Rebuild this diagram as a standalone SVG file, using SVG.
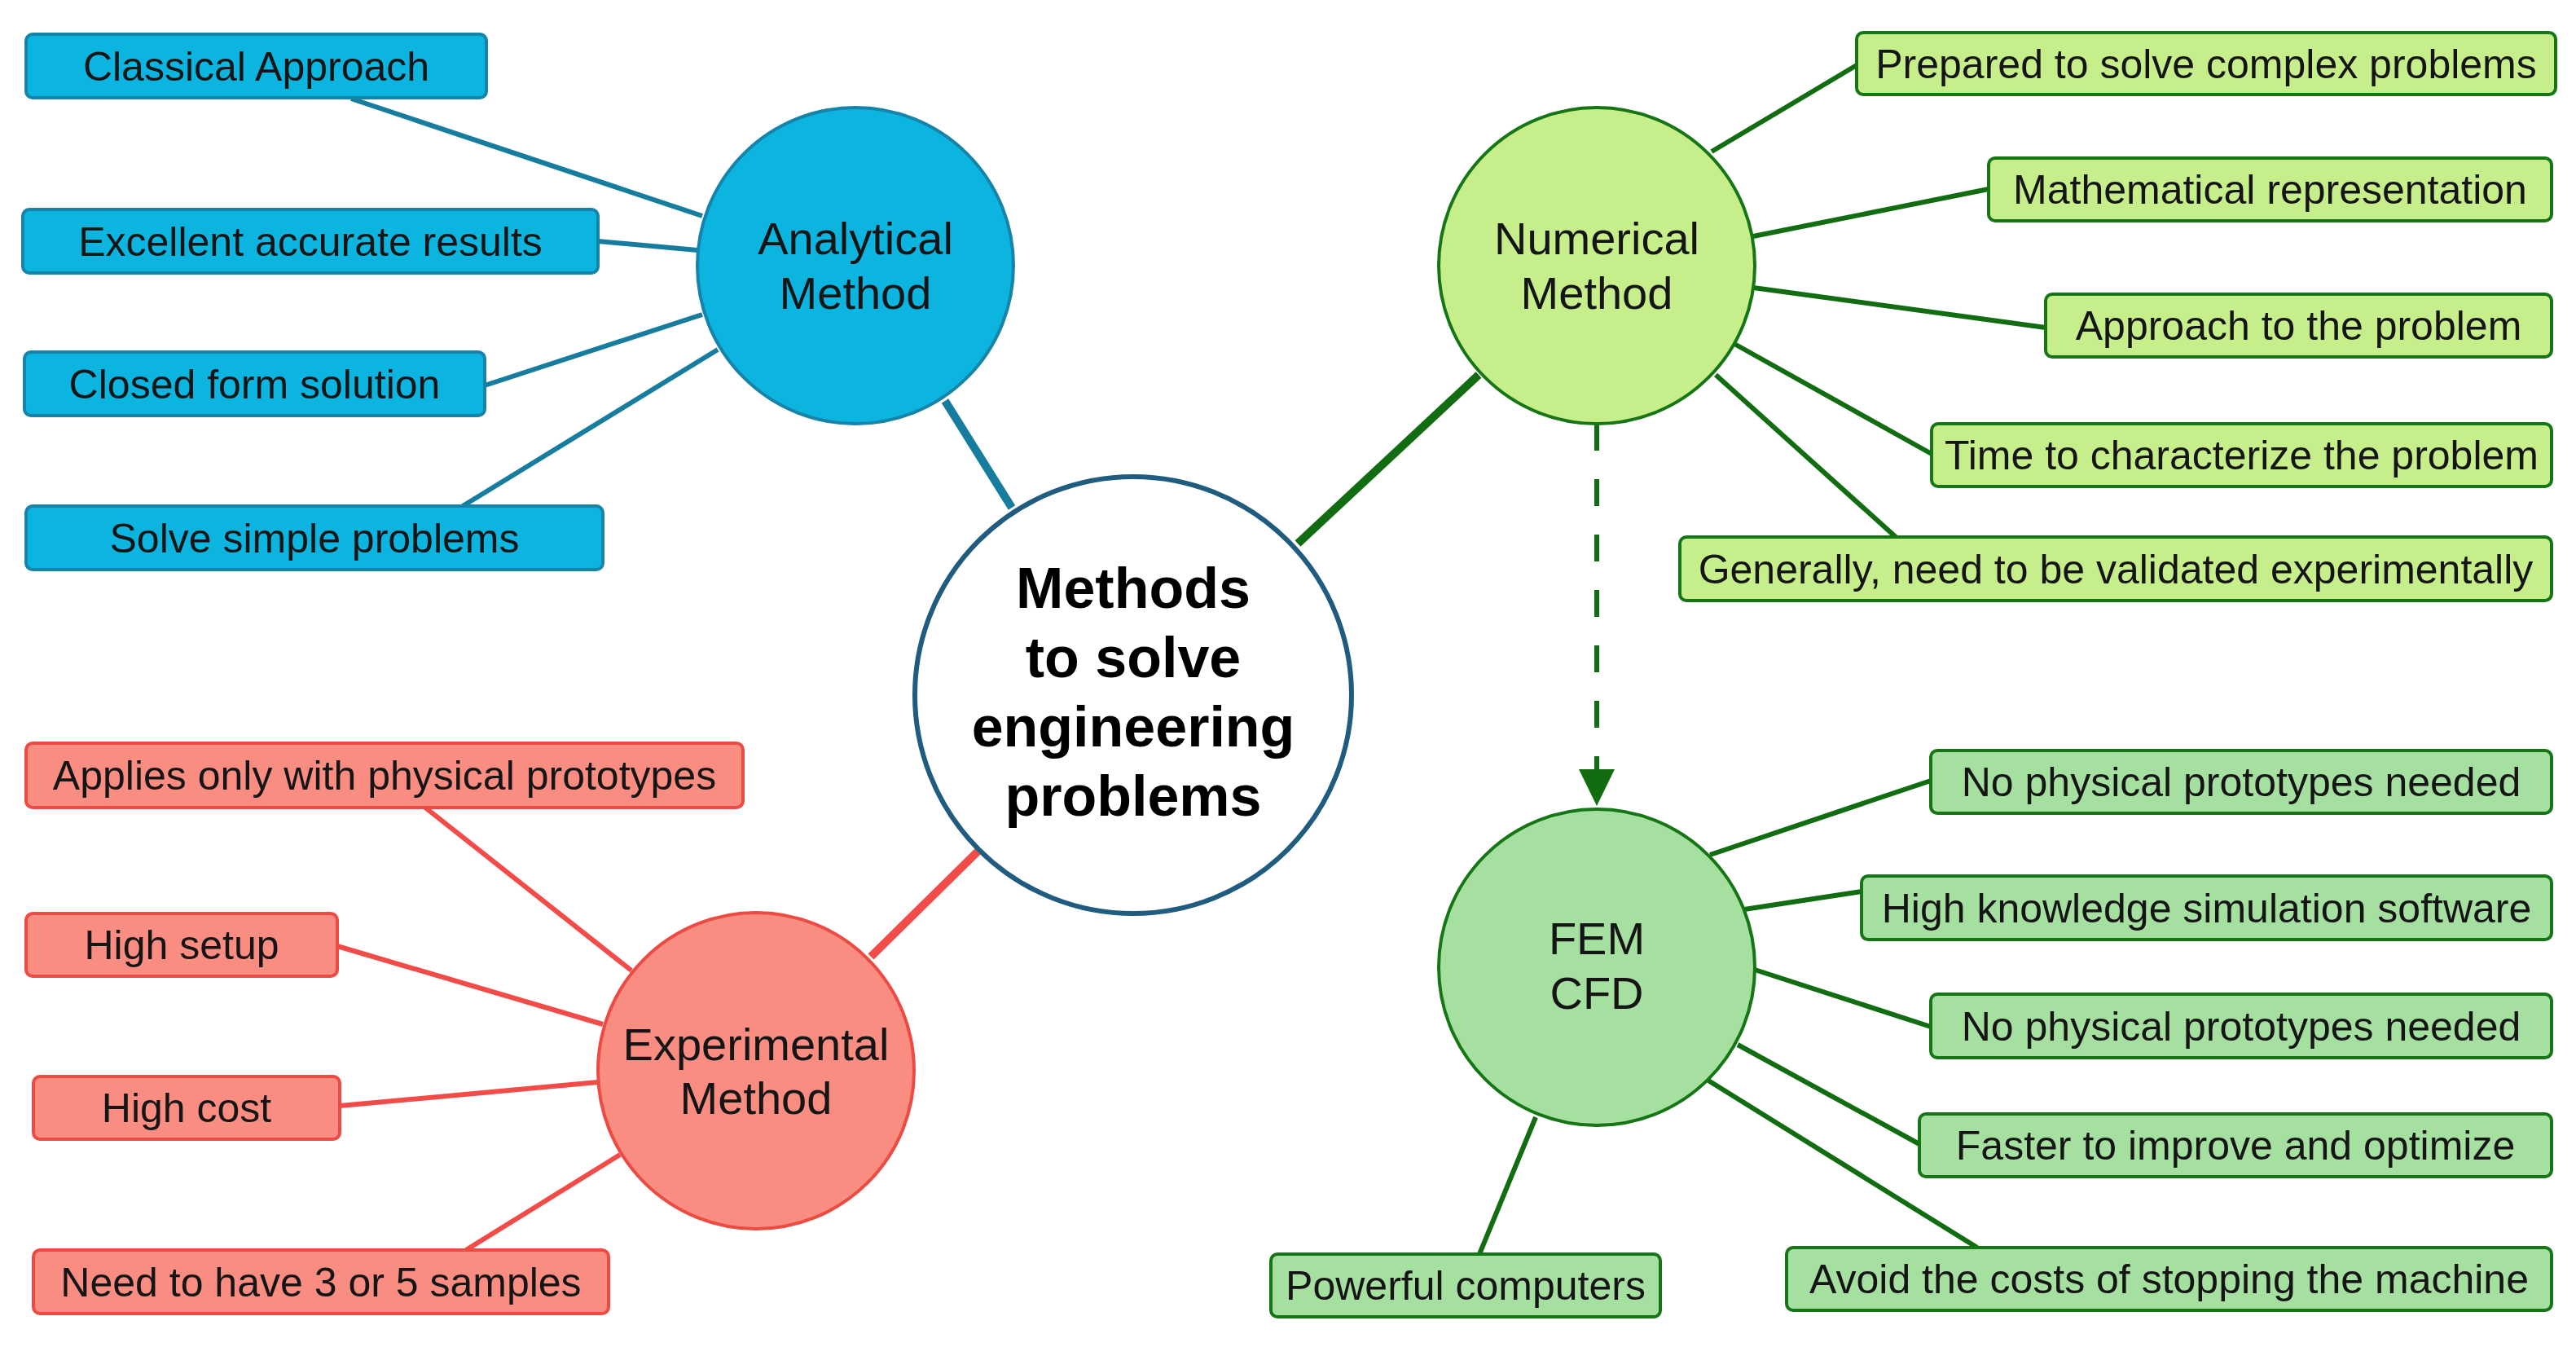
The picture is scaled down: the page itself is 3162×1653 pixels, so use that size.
<svg xmlns="http://www.w3.org/2000/svg" width="3162" height="1653" viewBox="0 0 3162 1653">
<style>
text{font-family:"Liberation Sans",Arial,sans-serif;fill:#151515;text-anchor:middle}
.bt{font-size:50px}
.ct{font-size:56px}
.mt{font-size:70px;font-weight:bold;fill:#000}
.bb{fill:#0cb4e0;stroke:#1683a8;stroke-width:4}
.gb{fill:#c6ef8c;stroke:#167616;stroke-width:4}
.fb{fill:#a6e0a0;stroke:#167616;stroke-width:4}
.rb{fill:#fa8d82;stroke:#ec4a42;stroke-width:4}
.lb{stroke:#177d9f;stroke-width:6;fill:none}
.lg{stroke:#126d12;stroke-width:6;fill:none}
.lr{stroke:#f24b48;stroke-width:6;fill:none}
.hub{stroke-width:10}
</style>
<rect width="3162" height="1653" fill="#fff"/>
<g id="connectors">
<line class="lb" x1="431" y1="121" x2="862" y2="265"/>
<line class="lb" x1="734" y1="296" x2="856" y2="307"/>
<line class="lb" x1="595" y1="473" x2="862" y2="386"/>
<line class="lb" x1="568" y1="621" x2="881" y2="429"/>
<line class="lb hub" x1="1160" y1="492" x2="1242" y2="623"/>
<line class="lg" x1="2101" y1="186" x2="2279" y2="80"/>
<line class="lg" x1="2152" y1="290" x2="2441" y2="232"/>
<line class="lg" x1="2152" y1="353" x2="2511" y2="402"/>
<line class="lg" x1="2129" y1="422" x2="2371" y2="557"/>
<line class="lg" x1="2106" y1="460" x2="2327" y2="659"/>
<line class="lg hub" x1="1815" y1="460" x2="1593" y2="667"/>
<line class="lg" x1="1960" y1="520" x2="1960" y2="950" stroke-width="12" stroke-dasharray="33 35"/>
<polygon points="1938,944 1982,944 1960,989" fill="#126d12"/>
<line class="lg" x1="2099" y1="1049" x2="2370" y2="958"/>
<line class="lg" x1="2141" y1="1116" x2="2285" y2="1094"/>
<line class="lg" x1="2154" y1="1190" x2="2370" y2="1260"/>
<line class="lg" x1="2133" y1="1282" x2="2356" y2="1404"/>
<line class="lg" x1="2097" y1="1326" x2="2427" y2="1531"/>
<line class="lg" x1="1885" y1="1371" x2="1816" y2="1539"/>
<line class="lr" x1="522" y1="991" x2="775" y2="1191"/>
<line class="lr" x1="414" y1="1161" x2="740" y2="1257"/>
<line class="lr" x1="417" y1="1357" x2="734" y2="1328"/>
<line class="lr" x1="572" y1="1534" x2="761" y2="1417"/>
<line class="lr hub" x1="1069" y1="1174" x2="1200" y2="1045" stroke="#ff3535"/>
</g>
<g id="center">
<circle cx="1391" cy="853" r="268" fill="#fff" stroke="#1f5c80" stroke-width="6"/>
<text class="mt" x="1391" y="746">Methods</text>
<text class="mt" x="1391" y="831">to solve</text>
<text class="mt" x="1391" y="916">engineering</text>
<text class="mt" x="1391" y="1001">problems</text>
</g>
<g id="analytical">
<circle cx="1050" cy="326" r="194" class="bb"/>
<text class="ct" x="1050" y="312">Analytical</text>
<text class="ct" x="1050" y="379">Method</text>
</g>
<g id="numerical">
<circle cx="1960" cy="326" r="194" class="gb"/>
<text class="ct" x="1960" y="312">Numerical</text>
<text class="ct" x="1960" y="379">Method</text>
</g>
<g id="fem">
<circle cx="1960" cy="1187" r="194" class="fb"/>
<text class="ct" x="1960" y="1171">FEM</text>
<text class="ct" x="1960" y="1238">CFD</text>
</g>
<g id="experimental">
<circle cx="928" cy="1314" r="194" class="rb"/>
<text class="ct" x="928" y="1301">Experimental</text>
<text class="ct" x="928" y="1367">Method</text>
</g>
<g id="a1"><rect class="bb" x="32" y="42" width="565" height="78" rx="8"/><text class="bt" x="314.5" y="99">Classical Approach</text></g>
<g id="a2"><rect class="bb" x="28" y="257" width="706" height="78" rx="8"/><text class="bt" x="381" y="314">Excellent accurate results</text></g>
<g id="a3"><rect class="bb" x="30" y="432" width="565" height="78" rx="8"/><text class="bt" x="312.5" y="489">Closed form solution</text></g>
<g id="a4"><rect class="bb" x="32" y="621" width="708" height="78" rx="8"/><text class="bt" x="386" y="678">Solve simple problems</text></g>
<g id="n1"><rect class="gb" x="2279" y="40" width="858" height="76" rx="8"/><text class="bt" x="2708" y="96">Prepared to solve complex problems</text></g>
<g id="n2"><rect class="gb" x="2441" y="194" width="691" height="77" rx="8"/><text class="bt" x="2786.5" y="250">Mathematical representation</text></g>
<g id="n3"><rect class="gb" x="2511" y="361" width="621" height="77" rx="8"/><text class="bt" x="2821.5" y="417">Approach to the problem</text></g>
<g id="n4"><rect class="gb" x="2371" y="520" width="761" height="77" rx="8"/><text class="bt" x="2751.5" y="576">Time to characterize the problem</text></g>
<g id="n5"><rect class="gb" x="2062" y="659" width="1070" height="78" rx="8"/><text class="bt" x="2597" y="716">Generally, need to be validated experimentally</text></g>
<g id="f1"><rect class="fb" x="2370" y="921" width="762" height="77" rx="8"/><text class="bt" x="2751" y="977">No physical prototypes needed</text></g>
<g id="f2"><rect class="fb" x="2285" y="1075" width="847" height="78" rx="8"/><text class="bt" x="2708.5" y="1132">High knowledge simulation software</text></g>
<g id="f3"><rect class="fb" x="2370" y="1220" width="762" height="78" rx="8"/><text class="bt" x="2751" y="1277">No physical prototypes needed</text></g>
<g id="f4"><rect class="fb" x="2356" y="1367" width="776" height="77" rx="8"/><text class="bt" x="2744" y="1423">Faster to improve and optimize</text></g>
<g id="f5"><rect class="fb" x="2193" y="1531" width="939" height="77" rx="8"/><text class="bt" x="2662.5" y="1587">Avoid the costs of stopping the machine</text></g>
<g id="f6"><rect class="fb" x="1560" y="1539" width="478" height="77" rx="8"/><text class="bt" x="1799" y="1595">Powerful computers</text></g>
<g id="e1"><rect class="rb" x="32" y="912" width="880" height="79" rx="8"/><text class="bt" x="472" y="969">Applies only with physical prototypes</text></g>
<g id="e2"><rect class="rb" x="32" y="1121" width="382" height="77" rx="8"/><text class="bt" x="223" y="1177">High setup</text></g>
<g id="e3"><rect class="rb" x="41" y="1321" width="376" height="77" rx="8"/><text class="bt" x="229" y="1377">High cost</text></g>
<g id="e4"><rect class="rb" x="41" y="1534" width="706" height="78" rx="8"/><text class="bt" x="394" y="1591">Need to have 3 or 5 samples</text></g>
</svg>
